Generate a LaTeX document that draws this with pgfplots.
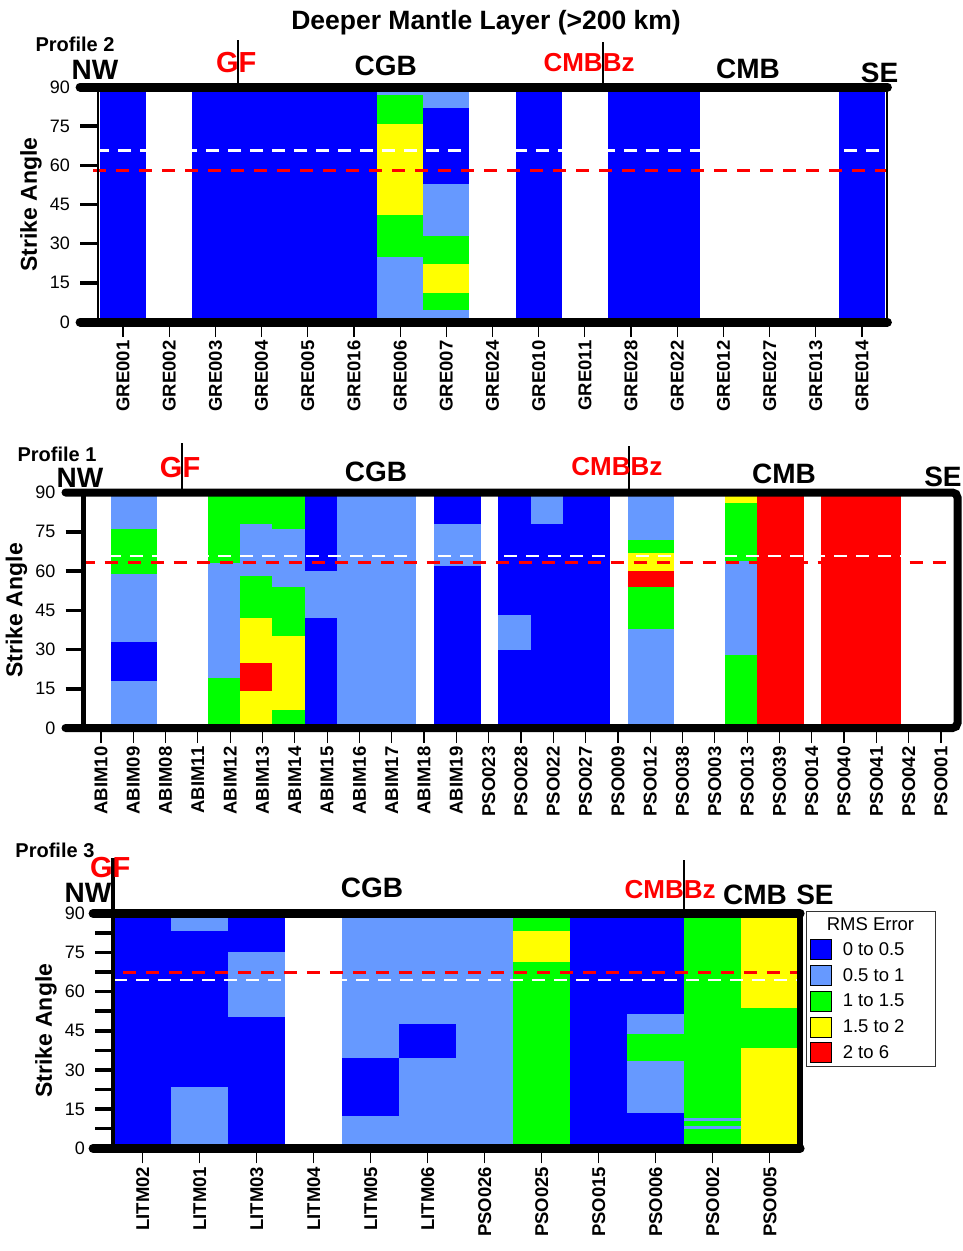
\documentclass[border=0pt]{standalone}
\usepackage{pgfplots}
\pgfplotsset{compat=1.18}
\usepackage{fontspec}
\setmainfont{Liberation Sans}
\definecolor{cblue}{RGB}{0,0,255}
\definecolor{clight}{RGB}{102,153,255}
\definecolor{cgreen}{RGB}{0,255,0}
\definecolor{cyellow}{RGB}{255,255,0}
\definecolor{cred}{RGB}{255,0,0}
% segment: x0 x1 y0 y1 colour
\newcommand\seg[5]{\addplot[draw=none,fill=#5,forget plot] coordinates {(#1,#3) (#2,#3) (#2,#4) (#1,#4)} -- cycle;}
\newcommand\ylabels{\pgfplotsinvokeforeach{0,15,30,45,60,75,90}{%
  \node[anchor=east, inner sep=0pt, font=\fontsize{18}{18}\selectfont] at ([xshift=-28pt]rel axis cs:0,##1/90) {##1};}}
\newcommand\hdr{\fontsize{28}{30}\selectfont\bfseries}
\newcommand\rhdr{\fontsize{26}{28}\selectfont\bfseries\color{cred}}
\newcommand\gfhdr{\fontsize{29}{30}\selectfont\bfseries\color{cred}}
\newcommand\prof{\fontsize{20}{22}\selectfont\bfseries}
\pgfplotsset{
  profstyle/.style={
    scale only axis, enlargelimits=false, clip=false,
    ymin=0, ymax=90, ytick=\empty,
    axis line style={line width=1pt},
    tick pos=left, tick align=outside,
    major tick length=15pt,
    xtick style={draw=black, line width=1.2pt},
    xticklabel style={font=\fontsize{18.5}{19}\selectfont\bfseries, rotate=90, anchor=east},
    ylabel={Strike Angle},
    every axis y label/.style={at={([xshift=-67pt]rel axis cs:0,0.5)}, rotate=90, anchor=center, font=\fontsize{23}{25}\selectfont\bfseries},
  },
  wdash/.style={forget plot, white, line width=2.5pt, dash pattern=on 13pt off 9pt},
  rdash/.style={forget plot, cred, line width=2.5pt, dash pattern=on 13pt off 10pt},
}
\begin{document}
\begin{tikzpicture}
\useasboundingbox (0pt,0pt) rectangle (962pt,-1251pt);
% ---------------- Profile 2 ----------------
\begin{axis}[profstyle, at={(98.1pt,-322pt)}, anchor=south west, width=789.3pt, height=235pt,
  xmin=-0.54, xmax=16.55, xtick={0,...,16},
  xticklabels={GRE001,GRE002,GRE003,GRE004,GRE005,GRE016,GRE006,GRE007,GRE024,GRE010,GRE011,GRE028,GRE022,GRE012,GRE027,GRE013,GRE014}]
\seg{-0.5}{0.5}{0}{90}{cblue}
\seg{1.5}{5.5}{0}{90}{cblue}
\seg{5.5}{6.5}{87}{90}{clight}
\seg{5.5}{6.5}{76}{87}{cgreen}
\seg{5.5}{6.5}{41}{76}{cyellow}
\seg{5.5}{6.5}{25}{41}{cgreen}
\seg{5.5}{6.5}{0}{25}{clight}
\seg{6.5}{7.5}{82}{90}{clight}
\seg{6.5}{7.5}{53}{82}{cblue}
\seg{6.5}{7.5}{33}{53}{clight}
\seg{6.5}{7.5}{22.4}{33}{cgreen}
\seg{6.5}{7.5}{11.3}{22.4}{cyellow}
\seg{6.5}{7.5}{4.6}{11.3}{cgreen}
\seg{6.5}{7.5}{0}{4.6}{clight}
\seg{8.5}{9.5}{0}{90}{cblue}
\seg{10.5}{12.5}{0}{90}{cblue}
\seg{15.5}{16.5}{0}{90}{cblue}
\addplot[wdash] coordinates {(-0.58,65.6) (16.55,65.6)};
\addplot[rdash] coordinates {(-0.65,58) (16.55,58)};
\draw[line width=9pt, line cap=round] ([xshift=-18pt]rel axis cs:0,1) -- (rel axis cs:1,1);
\draw[line width=9pt, line cap=round] ([xshift=-18pt]rel axis cs:0,0) -- (rel axis cs:1,0);
\draw[line width=2pt] (rel axis cs:0,0) -- (rel axis cs:0,1);
\draw[line width=2pt] (rel axis cs:1,0) -- (rel axis cs:1,1);
\draw[line width=2pt] (axis cs:2.49,90) -- (axis cs:2.49,108);
\draw[line width=2pt] (axis cs:10.39,90) -- (axis cs:10.39,107.2);
\node[font=\fontsize{26.5}{28}\selectfont\bfseries] at (axis cs:7.86,114.7) {Deeper Mantle Layer (>200 km)};
\node[font=\prof] at (axis cs:-1.04,106.5) {Profile 2};
\node[font=\hdr] at (axis cs:-0.61,96.5) {NW};
\node[font=\gfhdr] at (axis cs:2.45,99.2) {GF};
\node[font=\hdr] at (axis cs:5.69,98.0) {CGB};
\node[font=\rhdr] at (axis cs:10.09,99.2) {CMBBz};
\node[font=\hdr] at (axis cs:13.53,96.9) {CMB};
\node[font=\hdr] at (axis cs:16.38,95.4) {SE};
\ylabels
\end{axis}
% ---------------- Profile 1 ----------------
\begin{axis}[profstyle, at={(83.5pt,-728pt)}, anchor=south west, width=874pt, height=235.5pt,
  xmin=-0.54, xmax=26.51, xtick={0,...,26},
  xticklabels={ABIM10,ABIM09,ABIM08,ABIM11,ABIM12,ABIM13,ABIM14,ABIM15,ABIM16,ABIM17,ABIM18,ABIM19,PSO023,PSO028,PSO022,PSO027,PSO009,PSO012,PSO038,PSO003,PSO013,PSO039,PSO014,PSO040,PSO041,PSO042,PSO001}]
\seg{0.3}{1.75}{76}{90}{clight}
\seg{0.3}{1.75}{59}{76}{cgreen}
\seg{0.3}{1.75}{33}{59}{clight}
\seg{0.3}{1.75}{18}{33}{cblue}
\seg{0.3}{1.75}{0}{18}{clight}
\seg{3.3}{4.3}{63}{90}{cgreen}
\seg{3.3}{4.3}{19}{63}{clight}
\seg{3.3}{4.3}{0}{19}{cgreen}
\seg{4.3}{5.3}{78}{90}{cgreen}
\seg{4.3}{5.3}{58}{78}{clight}
\seg{4.3}{5.3}{42}{58}{cgreen}
\seg{4.3}{5.3}{25}{42}{cyellow}
\seg{4.3}{5.3}{14}{25}{cred}
\seg{4.3}{5.3}{0}{14}{cyellow}
\seg{5.3}{6.3}{76}{90}{cgreen}
\seg{5.3}{6.3}{54}{76}{clight}
\seg{5.3}{6.3}{35}{54}{cgreen}
\seg{5.3}{6.3}{7}{35}{cyellow}
\seg{5.3}{6.3}{0}{7}{cgreen}
\seg{6.3}{7.3}{60}{90}{cblue}
\seg{6.3}{7.3}{42}{60}{clight}
\seg{6.3}{7.3}{0}{42}{cblue}
\seg{7.3}{9.75}{0}{90}{clight}
\seg{10.3}{11.75}{78}{90}{cblue}
\seg{10.3}{11.75}{62}{78}{clight}
\seg{10.3}{11.75}{0}{62}{cblue}
\seg{12.3}{13.3}{43}{90}{cblue}
\seg{12.3}{13.3}{30}{43}{clight}
\seg{12.3}{13.3}{0}{30}{cblue}
\seg{13.3}{14.3}{78}{90}{clight}
\seg{13.3}{14.3}{0}{78}{cblue}
\seg{14.3}{15.75}{0}{90}{cblue}
\seg{16.3}{17.75}{72}{90}{clight}
\seg{16.3}{17.75}{67}{72}{cgreen}
\seg{16.3}{17.75}{60}{67}{cyellow}
\seg{16.3}{17.75}{54}{60}{cred}
\seg{16.3}{17.75}{38}{54}{cgreen}
\seg{16.3}{17.75}{0}{38}{clight}
\seg{19.3}{20.3}{86}{90}{cyellow}
\seg{19.3}{20.3}{64}{86}{cgreen}
\seg{19.3}{20.3}{28}{64}{clight}
\seg{19.3}{20.3}{0}{28}{cgreen}
\seg{20.3}{21.75}{0}{90}{cred}
\seg{22.3}{24.75}{0}{90}{cred}
\addplot[wdash] coordinates {(-0.45,65.7) (26.7,65.7)};
\addplot[rdash] coordinates {(-0.6,63.3) (26.5,63.3)};
\draw[line width=8pt, line cap=round, rounded corners=5pt] ([xshift=-18pt]rel axis cs:0,1) -- (rel axis cs:1,1) -- (rel axis cs:1,0) -- ([xshift=-18pt]rel axis cs:0,0);
\draw[line width=5pt] (rel axis cs:0,0) -- (rel axis cs:0,1);
\draw[line width=2pt] (axis cs:2.51,90) -- (axis cs:2.51,108.9);
\draw[line width=2pt] (axis cs:16.34,90) -- (axis cs:16.34,107.8);
\node[font=\prof] at (axis cs:-1.36,104.7) {Profile 1};
\node[font=\hdr] at (axis cs:-0.65,95.5) {NW};
\node[font=\gfhdr] at (axis cs:2.45,99.4) {GF};
\node[font=\hdr] at (axis cs:8.51,97.8) {CGB};
\node[font=\rhdr] at (axis cs:15.97,100.1) {CMBBz};
\node[font=\hdr] at (axis cs:21.14,97.1) {CMB};
\node[font=\hdr] at (axis cs:26.06,95.9) {SE};
\ylabels
\end{axis}
% ---------------- Profile 3 ----------------
\begin{axis}[profstyle, at={(113.1pt,-1148.3pt)}, anchor=south west, width=687pt, height=235pt,
  xmin=-0.52, xmax=11.53, xtick={0,...,11},
  xticklabels={LITM02,LITM01,LITM03,LITM04,LITM05,LITM06,PSO026,PSO025,PSO015,PSO006,PSO002,PSO005},
  legend style={at={(1,1)}, anchor=north west, xshift=6pt, yshift=2pt, draw=black!80, line width=0.8pt,
    font=\fontsize{18.5}{20}\selectfont, row sep=5pt, column sep=9pt, inner sep=3pt, nodes={inner sep=2.5pt}},
  legend cell align=left,
  legend image code/.code={\fill[#1] (0pt,-10pt) rectangle (21pt,10pt);}]
\addlegendimage{empty legend}\addlegendentry{\hspace*{-16pt}RMS Error\hspace*{16pt}}
\addlegendimage{fill=cblue}\addlegendentry{0 to 0.5}
\addlegendimage{fill=clight}\addlegendentry{0.5 to 1}
\addlegendimage{fill=cgreen}\addlegendentry{1 to 1.5}
\addlegendimage{fill=cyellow}\addlegendentry{1.5 to 2}
\addlegendimage{fill=cred}\addlegendentry{2 to 6}
\seg{-0.5}{0.5}{0}{90}{cblue}
\seg{0.5}{1.5}{83.4}{90}{clight}
\seg{0.5}{1.5}{23.6}{83.4}{cblue}
\seg{0.5}{1.5}{0}{23.6}{clight}
\seg{1.5}{2.5}{75.3}{90}{cblue}
\seg{1.5}{2.5}{50.4}{75.3}{clight}
\seg{1.5}{2.5}{0}{50.4}{cblue}
\seg{3.5}{4.5}{34.7}{90}{clight}
\seg{3.5}{4.5}{12.5}{34.7}{cblue}
\seg{3.5}{4.5}{0}{12.5}{clight}
\seg{4.5}{5.5}{47.5}{90}{clight}
\seg{4.5}{5.5}{34.7}{47.5}{cblue}
\seg{4.5}{5.5}{0}{34.7}{clight}
\seg{5.5}{6.5}{0}{90}{clight}
\seg{6.5}{7.5}{83.4}{90}{cgreen}
\seg{6.5}{7.5}{71.5}{83.4}{cyellow}
\seg{6.5}{7.5}{0}{71.5}{cgreen}
\seg{7.5}{8.5}{0}{90}{cblue}
\seg{8.5}{9.5}{51.5}{90}{cblue}
\seg{8.5}{9.5}{43.8}{51.5}{clight}
\seg{8.5}{9.5}{33.4}{43.8}{cgreen}
\seg{8.5}{9.5}{13.6}{33.4}{clight}
\seg{8.5}{9.5}{0}{13.6}{cblue}
\seg{9.5}{10.5}{0}{90}{cgreen}
\seg{9.5}{10.5}{10.6}{11.7}{clight}
\seg{9.5}{10.5}{7.5}{8.7}{clight}
\seg{10.5}{11.5}{53.6}{90}{cyellow}
\seg{10.5}{11.5}{38.5}{53.6}{cgreen}
\seg{10.5}{11.5}{0}{38.5}{cyellow}
\addplot[rdash] coordinates {(-0.75,67.4) (11.5,67.4)};
\addplot[wdash] coordinates {(-0.5,64.5) (11.5,64.5)};
\draw[line width=9pt, line cap=round] ([xshift=-20pt]rel axis cs:0,1) -- (rel axis cs:1,1);
\draw[line width=9pt, line cap=round] ([xshift=-20pt]rel axis cs:0,0) -- (rel axis cs:1,0);
\draw[line width=6pt] (rel axis cs:1,0) -- (rel axis cs:1,1);
\draw[line width=3.5pt] (rel axis cs:0,0) -- (rel axis cs:0,111.2/90);
\draw[line width=2pt] (axis cs:9.5,90) -- (axis cs:9.5,110.4);
\node[font=\prof] at (axis cs:-1.54,114.3) {Profile 3};
\node[font=\gfhdr] at (axis cs:-0.57,107.4) {GF};
\node[font=\hdr] at (axis cs:-0.96,97.8) {NW};
\node[font=\hdr] at (axis cs:4.02,99.7) {CGB};
\node[font=\rhdr] at (axis cs:9.25,99.0) {CMBBz};
\node[font=\hdr] at (axis cs:10.74,97.0) {CMB};
\node[font=\hdr] at (axis cs:11.79,97.0) {SE};
\ylabels
\end{axis}
% ---------------- y-axis tick marks (axis decoration) ----------------
\foreach \k in {1,...,5} {
  \draw[black, line width=3.5pt] (80.1pt,{-322pt+\k*39.1667pt}) -- (98.1pt,{-322pt+\k*39.1667pt});
  \draw[black, line width=3.5pt] (65.5pt,{-728pt+\k*39.25pt}) -- (83.5pt,{-728pt+\k*39.25pt});
}
\foreach \k in {1,...,11} {
  \draw[black, line width=3.5pt] (95.1pt,{-1148.3pt+\k*19.5833pt}) -- (113.1pt,{-1148.3pt+\k*19.5833pt});
}
\end{tikzpicture}
\end{document}
